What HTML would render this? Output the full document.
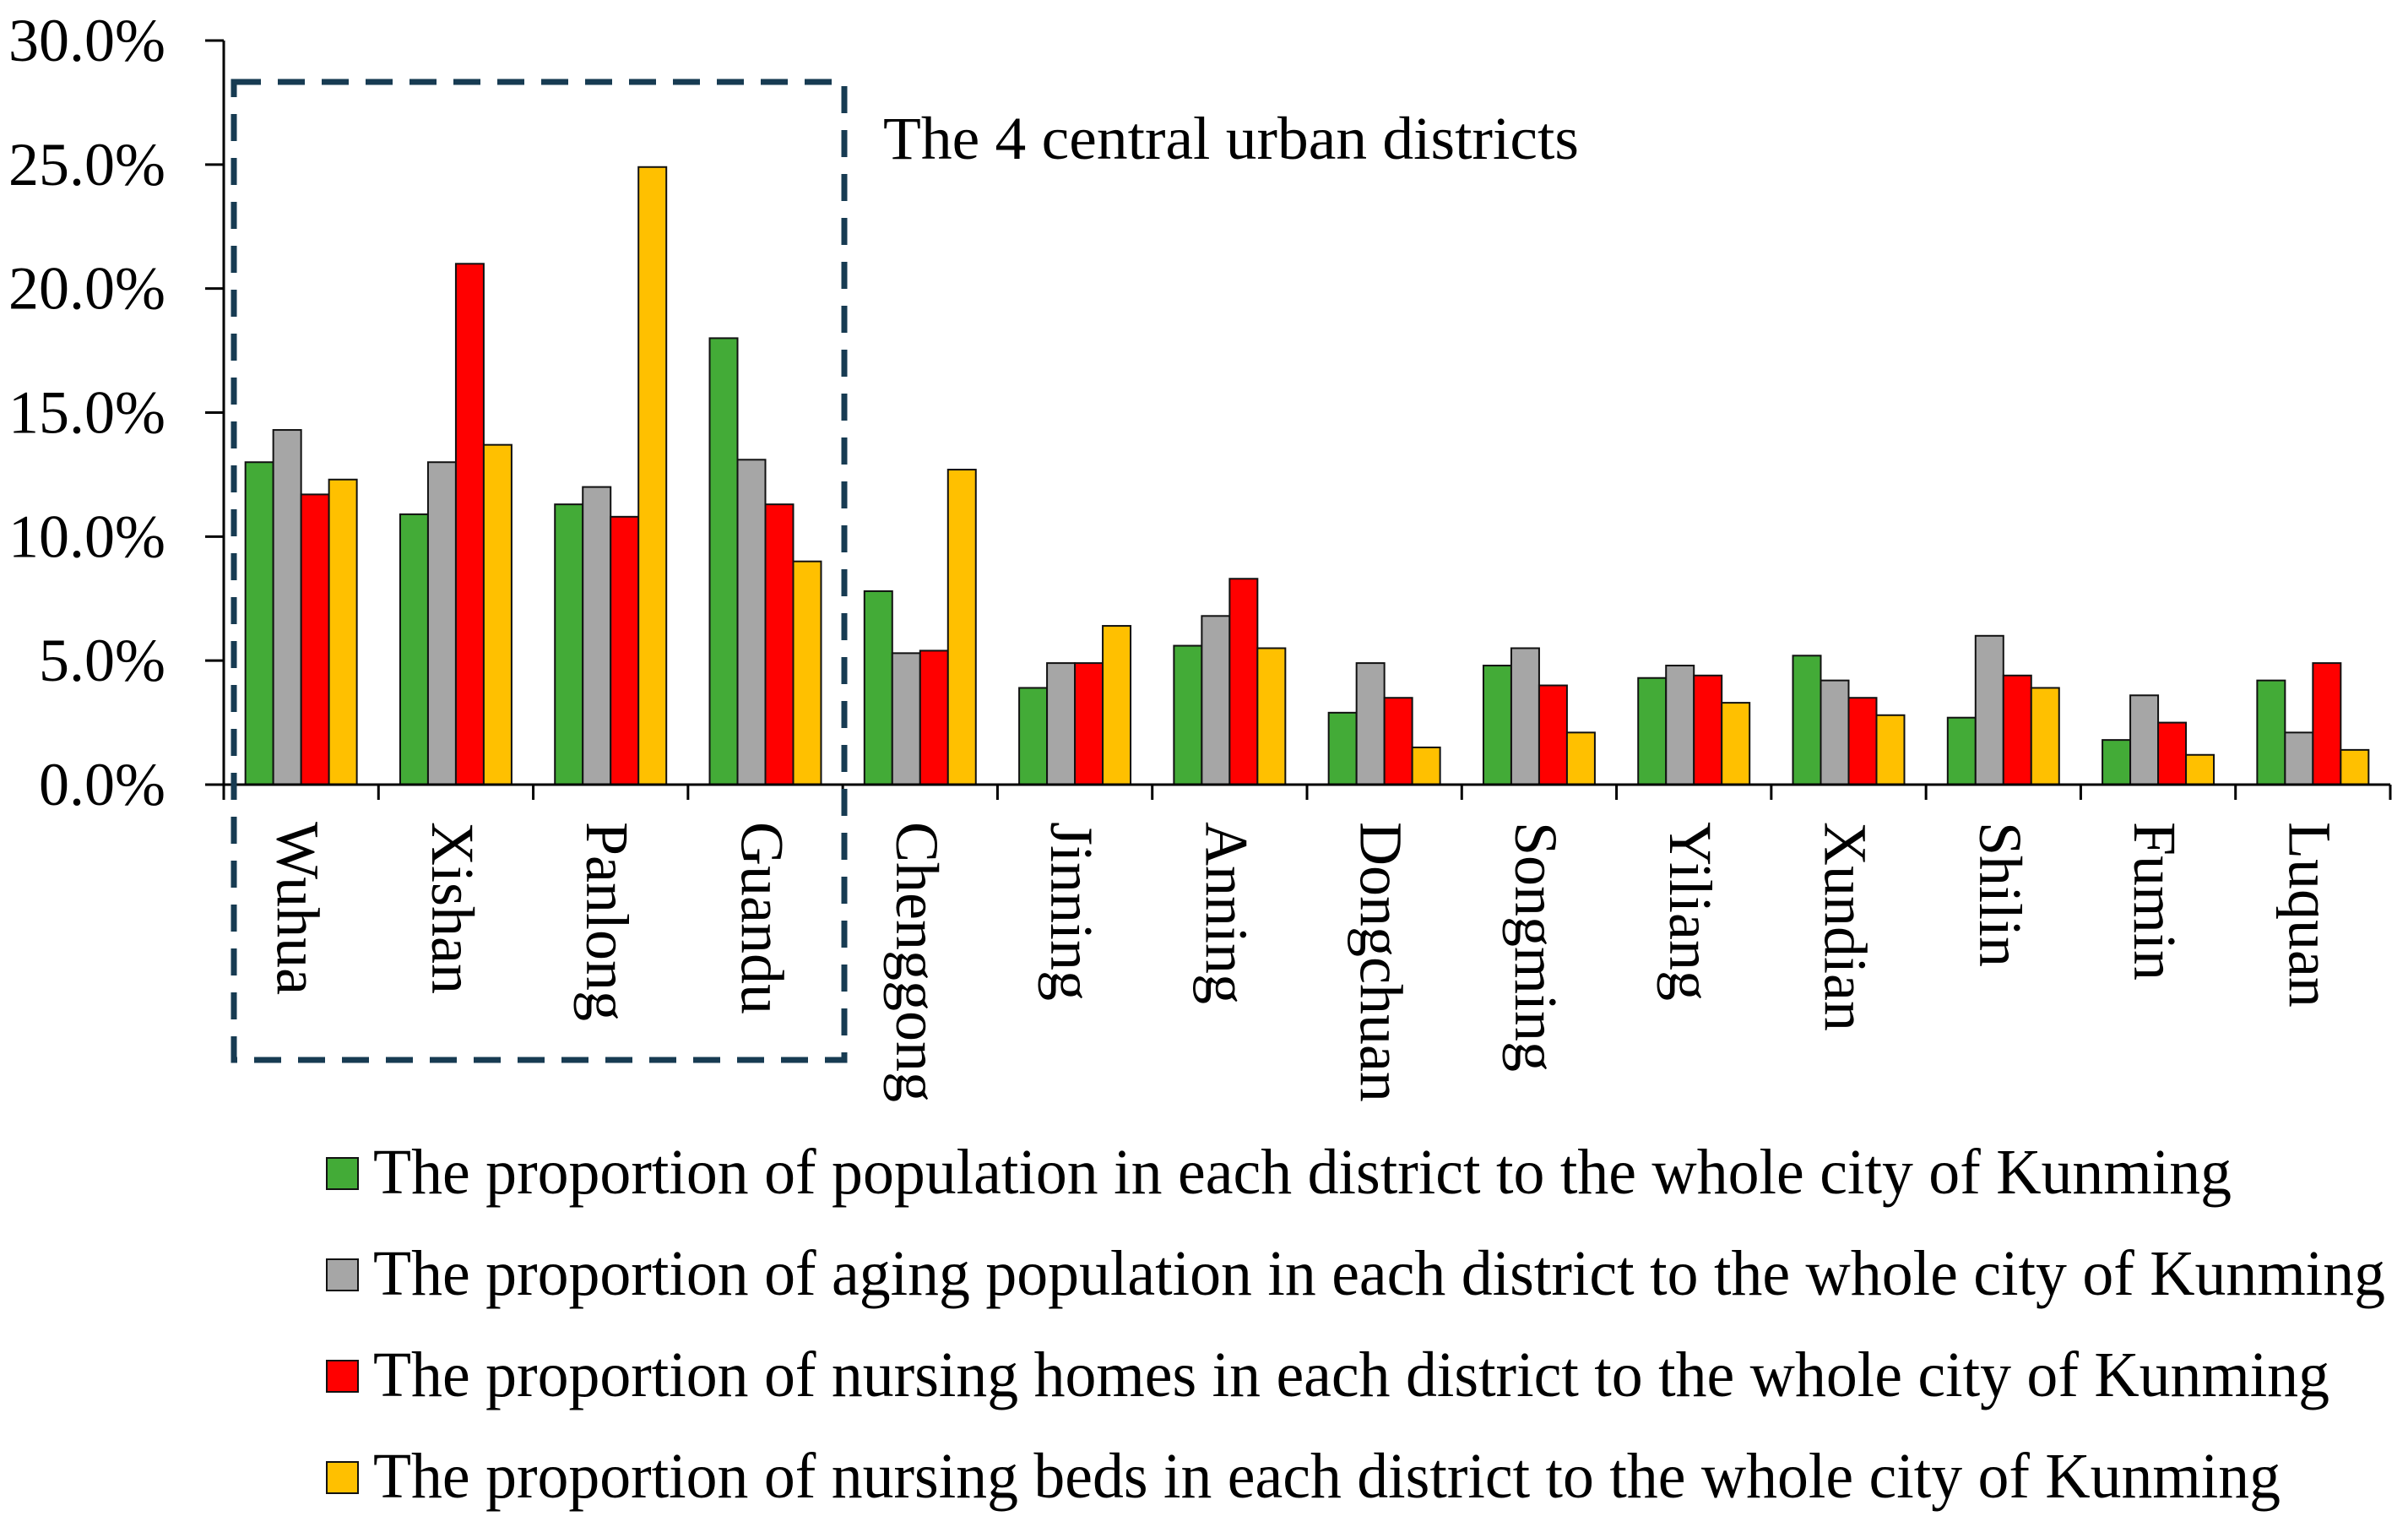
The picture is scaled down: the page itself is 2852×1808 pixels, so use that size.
<!DOCTYPE html>
<html><head><meta charset="utf-8"><style>
html,body{margin:0;padding:0;background:#fff;}
svg{display:block;font-family:"Liberation Serif",serif;}
</style></head><body>
<svg id="chart" width="2852" height="1808" viewBox="0 0 2852 1808" xmlns="http://www.w3.org/2000/svg">
<g id="bars"></g>
<g id="axes"></g>
<rect x="277" y="97" width="723" height="1158" fill="none" stroke="#173b52" stroke-width="7" stroke-dasharray="32 20"/>
<text x="1046" y="188" font-size="72" textLength="824" lengthAdjust="spacingAndGlyphs">The 4 central urban districts</text>
<g id="legend"></g>
</svg>
<script>
const categories = ["Wuhua","Xishan","Panlong","Guandu","Chenggong","Jinning","Anning","Dongchuan","Songming","Yiliang","Xundian","Shilin","Fumin","Luquan"];
const population = [13.0,10.9,11.3,18.0,7.8,3.9,5.6,2.9,4.8,4.3,5.2,2.7,1.8,4.2];
const aging = [14.3,13.0,12.0,13.1,5.3,4.9,6.8,4.9,5.5,4.8,4.2,6.0,3.6,2.1];
const nursingHomes = [11.7,21.0,10.8,11.3,5.4,4.9,8.3,3.5,4.0,4.4,3.5,4.4,2.5,4.9];
const nursingBeds = [12.3,13.7,24.9,9.0,12.7,6.4,5.5,1.5,2.1,3.3,2.8,3.9,1.2,1.4];
const yTicks = [0,5,10,15,20,25,30];
const yTickLabels = ["0.0%","5.0%","10.0%","15.0%","20.0%","25.0%","30.0%"];
const seriesNames = ["The proportion of population in each district to the whole city of Kunming","The proportion of aging population in each district to the whole city of Kunming","The proportion of nursing homes in each district to the whole city of Kunming","The proportion of nursing beds in each district to the whole city of Kunming"];

const NS="http://www.w3.org/2000/svg";
const X0=265,X1=2831,Y0=929,Y1=48,YMAX=30;
const band=(X1-X0)/categories.length;
const barW=band*0.18;
const yS=v=>Y0-(v/YMAX)*(Y0-Y1);
const xS=i=>X0+i*band;
const colors=["#43ab37","#a6a6a6","#ff0000","#ffc000"];
const seriesKeys=["population","aging","nursing-homes","nursing-beds"];
const series=[population,aging,nursingHomes,nursingBeds];
function mk(tag,attrs,parent){const e=document.createElementNS(NS,tag);for(const k in attrs)e.setAttribute(k,attrs[k]);parent.appendChild(e);return e;}
const bars=document.getElementById('bars'),axes=document.getElementById('axes'),legend=document.getElementById('legend');
series.forEach((s,si)=>{s.forEach((v,i)=>{
  const x=xS(i)+(band-4*barW)/2+si*barW;
  const r=mk('rect',{x:x,y:yS(v),width:barW,height:Y0-yS(v),fill:colors[si],stroke:'#111','stroke-width':2},bars);
  
  
});});
const ya=mk('line',{x1:X0,y1:Y1,x2:X0,y2:Y0,stroke:'#000','stroke-width':3},axes);


yTicks.forEach((t,i)=>{
  const tk=mk('line',{x1:X0-22,y1:yS(t),x2:X0,y2:yS(t),stroke:'#000','stroke-width':3},axes);
  
  
  const lab=yTickLabels[i];
  const tx=mk('text',{x:196,y:yS(t)+24,'font-size':72,'text-anchor':'end',textLength:lab.length===5?186:150,lengthAdjust:'spacingAndGlyphs'},axes);
  tx.textContent=lab;
  
  
});
const xa=mk('line',{x1:X0,y1:Y0,x2:X1,y2:Y0,stroke:'#000','stroke-width':3},axes);


for(let i=0;i<=categories.length;i++){
  const tk=mk('line',{x1:xS(i),y1:Y0,x2:xS(i),y2:Y0+18,stroke:'#000','stroke-width':3},axes);
  
  
}
categories.forEach((c,i)=>{
  const cx=xS(i)+band/2-4, cy=973;
  const tx=mk('text',{x:cx,y:cy,'font-size':72,'dominant-baseline':'central',transform:`rotate(90 ${cx} ${cy})`},axes);
  tx.textContent=c;
  
  
});
const legendLens=[2201,2383,2317,2259];
seriesNames.forEach((n,i)=>{
  const y=1371+i*120;
  const sw=mk('rect',{x:387,y:y,width:37,height:37,fill:colors[i],stroke:'#111','stroke-width':2},legend);
  
  
  const tx=mk('text',{x:442,y:y+42,'font-size':76,textLength:legendLens[i],lengthAdjust:'spacingAndGlyphs'},legend);
  tx.textContent=n;
  
  
});
</script>
</body></html>
